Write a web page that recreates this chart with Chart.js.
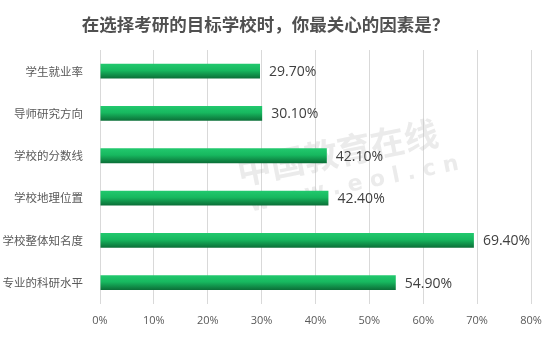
<!DOCTYPE html>
<html>
<head>
<meta charset="utf-8">
<script src="https://cdn.jsdelivr.net/npm/chart.js@4/dist/chart.umd.min.js"></script>
<style>
    body { margin: 0; background: #fff; }
    #wrap { width: 545px; height: 337px; position: relative; }
</style>
</head>
<body>
<div id="wrap"><canvas id="factorChart"></canvas></div>
<script>
const categories = ["学生就业率", "导师研究方向", "学校的分数线", "学校地理位置", "学校整体知名度", "专业的科研水平"];
const shares = [29.7, 30.1, 42.1, 42.4, 69.4, 54.9];
const tickValues = [0, 10, 20, 30, 40, 50, 60, 70, 80];

const cjk = "'Noto Sans CJK SC', 'Noto Sans', sans-serif";

// Vertical green gradient per bar
const barFill = (ctx) => {
    const chart = ctx.chart;
    const y = chart.scales.y;
    if (!y || ctx.dataIndex === undefined) return "#1aa85a";
    const center = y.getPixelForValue(ctx.dataIndex);
    const half = Math.abs(y.getPixelForValue(1) - y.getPixelForValue(0)) * 0.35 / 2;
    if (!isFinite(center) || !isFinite(half) || half <= 0) return "#1aa85a";
    const g = chart.ctx.createLinearGradient(0, center - half, 0, center + half);
    g.addColorStop(0, "#22c96e");
    g.addColorStop(0.45, "#17b85f");
    g.addColorStop(1, "#0b6e37");
    return g;
};

// Value labels at bar ends
const valueLabels = {
    id: "valueLabels",
    afterDatasetsDraw(chart) {
        const ctx = chart.ctx;
        const meta = chart.getDatasetMeta(0);
        ctx.save();
        ctx.font = "14px 'Open Sans', 'Noto Sans', sans-serif";
        ctx.fillStyle = "#404040";
        ctx.textBaseline = "middle";
        ctx.textAlign = "left";
        meta.data.forEach((bar, i) => {
            ctx.fillText(shares[i].toFixed(2) + "%", bar.x + 9, bar.y + 1);
        });
        ctx.restore();
    }
};

// Faint site watermark
const watermark = {
    id: "watermark",
    beforeDatasetsDraw(chart) {
        const ctx = chart.ctx;
        ctx.save();
        ctx.translate(340, 165);
        ctx.rotate(-0.2);
        ctx.fillStyle = "rgba(190,190,190,0.3)";
        ctx.font = "bold 34px " + cjk;
        ctx.textAlign = "center";
        ctx.fillText("中国教育在线", 0, 0);
        ctx.font = "bold 22px 'DejaVu Sans', sans-serif";
        ctx.fillText("w w w . e o l . c n", 10, 28);
        ctx.restore();
    }
};

new Chart(document.getElementById("factorChart"), {
    type: "bar",
    data: {
        labels: categories,
        datasets: [{
            data: shares,
            backgroundColor: barFill,
            barPercentage: 0.35,
            categoryPercentage: 1
        }]
    },
    options: {
        indexAxis: "y",
        responsive: true,
        maintainAspectRatio: false,
        animation: false,
        layout: { padding: { left: 0, right: 14, top: 0, bottom: 0 } },
        plugins: {
            legend: { display: false },
            tooltip: { enabled: false },
            title: {
                display: true,
                text: "在选择考研的目标学校时，你最关心的因素是？",
                color: "#505050",
                font: { family: cjk, size: 17.5, weight: "bold" },
                padding: { top: 14, bottom: 15 }
            }
        },
        scales: {
            x: {
                min: 0,
                max: 80,
                afterBuildTicks: (axis) => { axis.ticks = tickValues.map(v => ({ value: v })); },
                afterFit: (axis) => { axis.paddingLeft = 0; axis.paddingRight = 0; },
                grid: { color: "#d9d9d9", drawTicks: false },
                border: { display: false },
                ticks: {
                    color: "#595959",
                    padding: 10,
                    font: { family: "'Open Sans', sans-serif", size: 11 },
                    callback: (v) => v + "%"
                }
            },
            y: {
                grid: { display: false },
                border: { display: false },
                afterFit: (axis) => { axis.width = 100; },
                ticks: {
                    color: "#595959",
                    padding: 9,
                    font: { family: cjk, size: 11.5 }
                }
            }
        }
    },
    plugins: [watermark, valueLabels]
});
</script>
</body>
</html>
